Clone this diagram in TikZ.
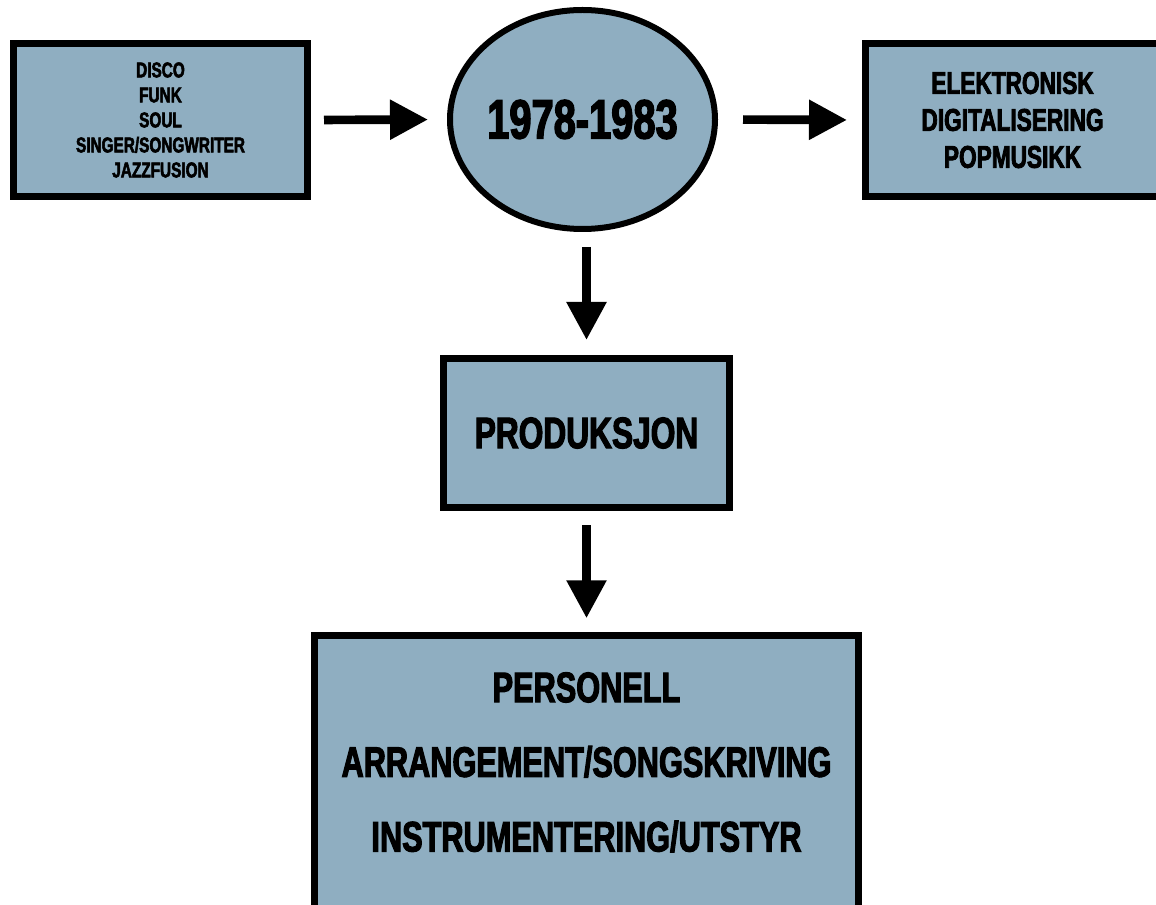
\documentclass[tikz,border=0pt]{standalone}
\usepackage{fontspec}
\newfontfamily\impactfont{Liberation Sans Bold}[FakeStretch=0.72,FakeBold=2.5]
\usetikzlibrary{arrows.meta,shapes.geometric}
\definecolor{boxblue}{RGB}{143,174,193}
\tikzset{
    genrebox/.style={draw=black, fill=boxblue, line width=5.25pt, rectangle, inner sep=0pt, align=center},
    eraball/.style={draw=black, fill=boxblue, line width=4.5pt, ellipse, inner sep=0pt, inner xsep=-4pt},
    bigarrow/.style={-{Triangle[length=28.5pt,width=28.5pt]}, line width=6.5pt},
}
\begin{document}
\begin{tikzpicture}[x=0.75pt, y=-0.75pt]
    \useasboundingbox (0,0) rectangle (1156,905);
    \clip (0,0) rectangle (1156,905);

    % Genres before
    \node[genrebox, minimum width=220.5pt, minimum height=114.75pt,
          font=\impactfont\fontsize{16}{18.75}\selectfont] (genres) at (160.5,120)
        {DISCO\\FUNK\\SOUL\\SINGER/SONGWRITER\\JAZZFUSION};

    % The period
    \node[eraball, minimum width=198.75pt, minimum height=164.25pt,
          font=\impactfont\fontsize{41.5}{44}\selectfont] (era) at (582.5,119.5) {1978-1983};

    % Trends after
    \node[genrebox, minimum width=220.5pt, minimum height=114.75pt,
          font=\impactfont\fontsize{23.6}{27.75}\selectfont] (trends) at (1012.5,120)
        {ELEKTRONISK\\DIGITALISERING\\POPMUSIKK};

    % Production
    \node[genrebox, minimum width=214.5pt, minimum height=111.75pt,
          font=\impactfont\fontsize{33}{38}\selectfont] (prod) at (586.5,433) {PRODUKSJON};

    % Aspects of production
    \node[genrebox, minimum width=408pt, minimum height=245.25pt,
          font=\impactfont\fontsize{32}{56}\selectfont] (aspects) at (586.5,799.25)
        {PERSONELL\\ARRANGEMENT/SONGSKRIVING\\INSTRUMENTERING/UTSTYR\\\mbox{}};

    % Arrows
    \draw[bigarrow, shorten <=9.75pt, shorten >=14.25pt] (genres.east) -- (era.west);
    \draw[bigarrow, shorten <=18.75pt, shorten >=11.25pt] (era.east) -- (trends.west);
    \draw[bigarrow, shorten <=11.25pt, shorten >=11.25pt] (era.south -| prod) -- (prod.north);
    \draw[bigarrow, shorten <=10.5pt, shorten >=10.5pt] (prod.south) -- (aspects.north);
\end{tikzpicture}
\end{document}
